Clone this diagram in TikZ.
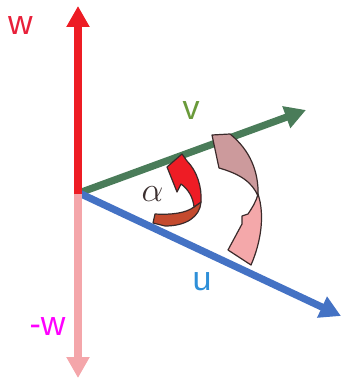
\documentclass[tikz,border=0pt]{standalone}
\usepackage{fontspec}
\setmainfont{Liberation Sans}
\usetikzlibrary{arrows.meta}
\definecolor{wred}{HTML}{ED1C24}
\definecolor{wpink}{HTML}{F4A6AA}
\definecolor{vgreen}{HTML}{4A7C59}
\definecolor{ublue}{HTML}{4472C4}
\definecolor{wlabel}{HTML}{E8203A}
\definecolor{vlabel}{HTML}{6A9A3A}
\definecolor{ulabel}{HTML}{2E8FD8}
\definecolor{mwlabel}{HTML}{FF00FF}
\definecolor{alabel}{HTML}{3B2F2F}
\definecolor{turnfront}{HTML}{EE1C25}
\definecolor{turnback}{HTML}{C44A2E}
\definecolor{swingback}{HTML}{CC9A9C}
\definecolor{swingfront}{HTML}{F4A8AA}
\definecolor{rim}{HTML}{3A2A2A}

\begin{document}
\begin{tikzpicture}[x=0.5pt, y=-0.5pt,
  vec/.style={line width=3.6pt, -{Triangle[length=10.5pt, width=11pt]}},
  lbl/.style={inner sep=0pt, font=\fontsize{17}{20}\selectfont},
  band/.style={draw=rim, line width=0.6pt, line join=round}
]
  \useasboundingbox (0,0) rectangle (343,379);
  \coordinate (O) at (79,193);
  \coordinate (wtip) at (78,6);
  \coordinate (mwtip) at (78,378);
  \coordinate (vtip) at (306,110);
  \coordinate (utip) at (341,316);

  \draw[vec, color=vgreen] (O) -- (vtip);
  \draw[vec, color=ublue] (O) -- (utip);
  \draw[vec, color=wpink] (78,193) -- (mwtip);
  \draw[vec, color=wred] (78,194) -- (wtip);

  % small turn from u to v
  \filldraw[band, fill=turnback] (201,202) .. controls (200,217) and (186,226) .. (165,226)
    -- (153,223) -- (155,214) .. controls (172,215) and (186,213) .. (194,207) -- cycle;
  \filldraw[band, fill=turnfront] (167,167) -- (182,154) -- (187,161)
    .. controls (197,171) and (202,187) .. (201,202) -- (194,207)
    .. controls (193,197) and (188,189) .. (181,184) -- (177,192) -- cycle;

  % big turn from v to u
  \filldraw[band, fill=swingback] (212,135) -- (230,134) .. controls (250,150) and (259,172) .. (258,196)
    .. controls (252,182) and (240,174) .. (219,168) -- cycle;
  \filldraw[band, fill=swingfront] (258,194) .. controls (265,215) and (261,242) .. (251,265)
    -- (228,250) -- (242,224) -- (242,216) -- (248,214) .. controls (252,208) and (256,202) .. (258,194) -- cycle;

  \node[lbl, text=wlabel] (wlbl) at (20.5,26) {w};
  \node[lbl, text=vlabel] (vlbl) at (191,111) {v};
  \node[lbl, text=ulabel] (ulbl) at (202,282) {u};
  \node[lbl, text=mwlabel] (mwlbl) at (47.5,327) {-w};
  \node[inner sep=0pt, text=alabel, font=\fontsize{16}{18}\selectfont] (albl) at (152.5,194) {$\alpha$};
\end{tikzpicture}
\end{document}
